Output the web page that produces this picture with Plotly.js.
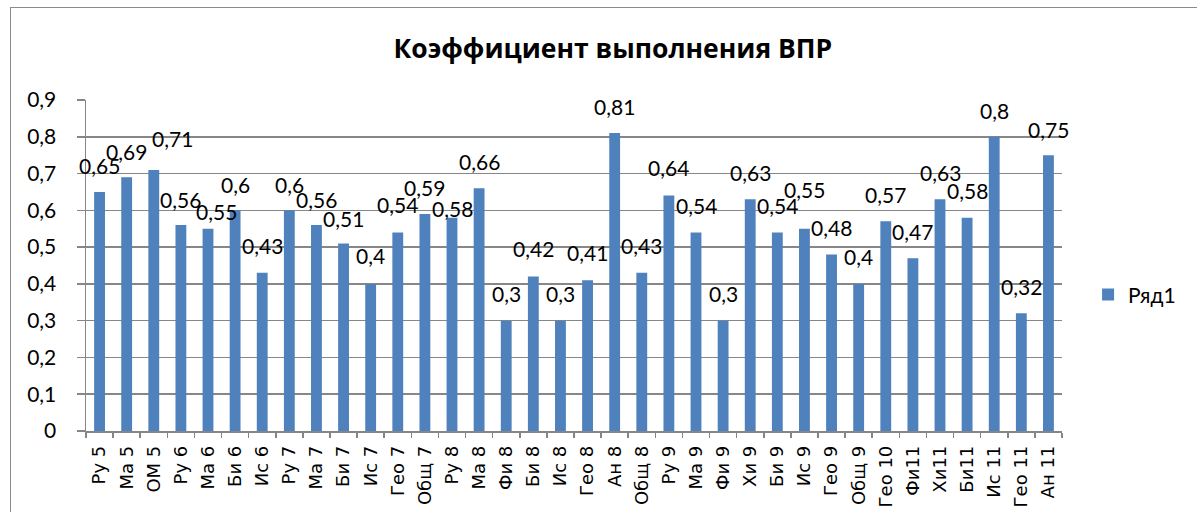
<!DOCTYPE html>
<html>
<head>
<meta charset="utf-8">
<script src="https://cdn.plot.ly/plotly-3.0.1.min.js"></script>
<style>
  html, body { margin: 0; padding: 0; background: #fff; width: 1197px; height: 512px; overflow: hidden; }
  #frame { position: absolute; left: 10px; top: 7px; width: 1300px; height: 600px;
           border-left: 1.5px solid #8a8a8a; border-top: 1.5px solid #8a8a8a; }
  #chart { position: absolute; left: 0; top: 0; width: 1197px; height: 512px; }
</style>
</head>
<body>
<div id="frame"></div>
<div id="chart"></div>
<script>
// ---- data ----
const categories = ["Ру 5","Ма 5","ОМ 5","Ру 6","Ма 6","Би 6","Ис 6","Ру 7","Ма 7","Би 7","Ис 7","Гео 7","Общ 7",
  "Ру 8","Ма 8","Фи 8","Би 8","Ис 8","Гео 8","Ан 8","Общ 8","Ру 9","Ма 9","Фи 9","Хи 9","Би 9","Ис 9","Гео 9",
  "Общ 9","Гео 10","Фи11","Хи11","Би11","Ис 11","Гео 11","Ан 11"];
const values = [0.65,0.69,0.71,0.56,0.55,0.6,0.43,0.6,0.56,0.51,0.4,0.54,0.59,
  0.58,0.66,0.3,0.42,0.3,0.41,0.81,0.43,0.64,0.54,0.3,0.63,0.54,0.55,0.48,
  0.4,0.57,0.47,0.63,0.58,0.8,0.32,0.75];
const seriesName = "Ряд1";
const chartTitle = "Коэффициент выполнения ВПР";
const yTickValues = [0,0.1,0.2,0.3,0.4,0.5,0.6,0.7,0.8,0.9];

// ---- label nudges (pixel offsets of the data labels, as placed in the original) ----
const labelNudgeY = [26,26,31,26,17,26,27,26,26,25,28,28,27,9,27,27,28,27,28,27,27,28,27,27,27,27,39,27,27,27,27,27,27,26,27,26];
const labelNudgeX = [0,0,19,0,8,0,0,0,0,0,0,0,0,0,0,0,0,0,0,0,0,0,0,0,0,0,0,0,0,0,0,0,0,0,0,0];

const fmt = v => String(v).replace('.', ',');

const annotations = categories.map((c, i) => ({
  x: c, y: values[i], xref: 'x', yref: 'y',
  text: fmt(values[i]), showarrow: false,
  xanchor: 'center', yanchor: 'middle',
  yshift: labelNudgeY[i], xshift: labelNudgeX[i],
  font: { family: 'Lato, sans-serif', size: 21, color: '#000' }
}));

const trace = {
  type: 'bar', x: categories, y: values, name: seriesName,
  marker: { color: '#4f81bd' }, showlegend: true
};

const layout = {
  width: 1197, height: 512,
  margin: { l: 86, r: 135, t: 100, b: 81, autoexpand: false },
  paper_bgcolor: 'rgba(0,0,0,0)', plot_bgcolor: 'rgba(0,0,0,0)',
  separators: ', ',
  bargap: 0.6,
  title: { text: '<b>' + chartTitle + '</b>', xref: 'container', x: 0.512, xanchor: 'center',
           yref: 'container', y: 0.905, yanchor: 'middle',
           font: { family: 'Open Sans, sans-serif', size: 26.5, color: '#000' } },
  xaxis: {
    type: 'category', range: [-0.5, categories.length - 0.5], tickangle: -90, showgrid: false, automargin: false,
    showline: true, linecolor: '#868686', linewidth: 1.5,
    ticks: 'outside', tickson: 'boundaries', ticklen: 5, tickcolor: '#868686', tickwidth: 1.5,
    ticklabelstandoff: 6,
    tickfont: { family: 'DejaVu Sans, sans-serif', size: 18, color: '#000' }
  },
  yaxis: {
    range: [0, 0.9], tickvals: yTickValues, ticktext: yTickValues.map(fmt), automargin: false,
    showgrid: true, gridcolor: '#878787', gridwidth: 1.5,
    showline: true, linecolor: '#868686', linewidth: 1.5,
    ticks: 'outside', ticklen: 8, tickcolor: '#868686', tickwidth: 1.5,
    ticklabelstandoff: 16, zeroline: false,
    tickfont: { family: 'Lato, sans-serif', size: 21, color: '#000' }
  },
  legend: { xref: 'container', yref: 'container', x: 0.909, xanchor: 'left', y: 0.424, yanchor: 'middle',
            font: { family: 'Lato, sans-serif', size: 21, color: '#000' }, bgcolor: 'rgba(0,0,0,0)' },
  annotations: annotations
};

Plotly.newPlot('chart', [trace], layout, { displayModeBar: false, staticPlot: true });
</script>
</body>
</html>
